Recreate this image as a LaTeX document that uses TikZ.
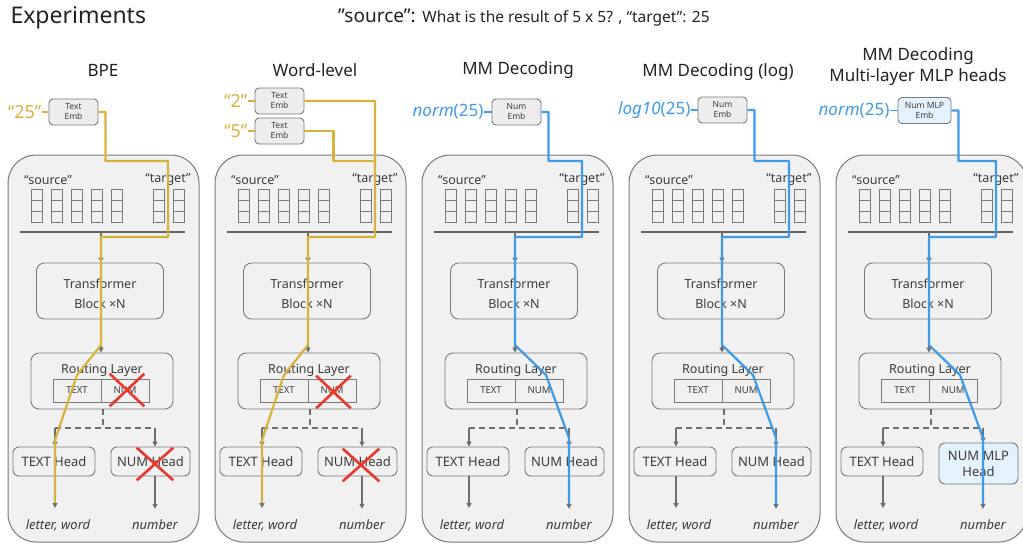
\documentclass[tikz,border=0pt]{standalone}
\usepackage{fontspec}
\setmainfont{Noto Sans}
\usetikzlibrary{positioning,arrows.meta,shapes.misc}

\definecolor{trackgold}{HTML}{D9B23C}
\definecolor{trackblue}{HTML}{3D9BEA}
\definecolor{crossred}{HTML}{E8392C}
\definecolor{panelgray}{HTML}{F1F1F1}
\definecolor{linegray}{HTML}{7A7A7A}
\definecolor{inkgray}{HTML}{3C3C3C}
\definecolor{inkdark}{HTML}{222222}
\definecolor{embgray}{HTML}{EDEDED}
\definecolor{mlpblue}{HTML}{E3F2FD}

\begin{document}
\begin{tikzpicture}[x=1pt,y=-1pt,
    panel/.style={draw=linegray,fill=panelgray,line width=1pt,rounded corners=28pt},
    title/.style={text=inkdark,font=\fontsize{17}{21}\selectfont,align=center},
    tok/.style={text=inkgray,font=\fontsize{12.5}{15}\selectfont,inner sep=0pt},
    cell/.style={draw=linegray,line width=0.9pt},
    tokbar/.style={draw=inkgray!80,line width=1.5pt},
    block/.style={draw=linegray,line width=0.9pt,rounded corners=8pt,text=inkgray,font=\fontsize{12.5}{20}\selectfont,align=center,inner sep=0pt},
    slot/.style={draw=linegray,line width=0.9pt,minimum width=48pt,minimum height=23pt,inner sep=0pt,text=inkgray,font=\fontsize{9.5}{11}\selectfont},
    headbox/.style={draw=linegray,line width=0.9pt,rounded corners=6pt,minimum height=29pt,inner sep=0pt,text=inkgray,font=\fontsize{13}{16}\selectfont,align=center},
    mlphead/.style={headbox,fill=mlpblue,minimum height=41pt},
    emb/.style={draw=linegray,line width=0.9pt,fill=embgray,rounded corners=4pt,minimum width=49pt,minimum height=26pt,inner sep=0pt,text=inkgray,font=\fontsize{8.5}{10}\selectfont,align=center},
    outlbl/.style={text=inkgray,font=\fontsize{13}{16}\selectfont\itshape,inner sep=1pt},
    arr/.style={draw=linegray!90!black,line width=1.6pt,-{Triangle[length=5pt,width=5pt]}},
    forkline/.style={draw=linegray!90!black,line width=1.8pt,dash pattern=on 6pt off 4pt},
    goldlbl/.style={text=trackgold,font=\fontsize{18}{22}\selectfont,inner sep=0pt},
    bluelbl/.style={text=trackblue,font=\fontsize{17}{21}\selectfont,inner sep=0pt},
    ytrack/.style={draw=trackgold,line width=2.2pt,line join=round},
    btrack/.style={draw=trackblue,line width=2.2pt,line join=round},
    xmark/.style={cross out,draw=crossred,line width=2.6pt,inner sep=0pt}
  ]
\useasboundingbox (0,0) rectangle (1023,544);

% header
\node[anchor=west,text=inkdark,font=\fontsize{23}{27}\selectfont] (exp) at (7,18) {Experiments};
\node[anchor=west,text=inkdark,inner sep=0pt] (query) at (338,18) {\fontsize{19}{23}\selectfont ”source”: \fontsize{15.5}{18}\selectfont What is the result of 5 x 5? , “target”: 25};

\node[title] (t1) at (103,70) {BPE};
\node[title] (t2) at (315,70) {Word-level};
\node[title] (t3) at (518,70) {MM Decoding};
\node[title] (t4) at (718,72) {MM Decoding (log)};
\node[title] (t5) at (918,67) {MM Decoding\\Multi-layer MLP heads};

% the five model panels
\foreach \dx/\n in {0/1,207/2,414/3,621/4,828/5}{
  \draw[panel] (\dx+8,155) rectangle (\dx+199,542);
  \node[tok] (src\n) at (\dx+48,180) {“source”};
  \node[tok] (tgt\n) at (\dx+168,180) {“target”};
  \foreach \c in {0,...,4}
    \foreach \r in {0,1,2}
      \draw[cell] (\dx+31+20*\c,189+11*\r) rectangle ++(11,11);
  \foreach \c in {0,1}
    \foreach \r in {0,1,2}
      \draw[cell] (\dx+153+20*\c,189+11*\r) rectangle ++(11,11);
  \coordinate (bl\n) at (\dx+20,232);
  \coordinate (br\n) at (\dx+185,232);
  \coordinate (bm\n) at (\dx+101,232);
  \draw[tokbar] (bl\n) -- (br\n);
  \node[block,minimum width=127pt,minimum height=56pt] (tf\n) at (\dx+100,291) {\\[-5pt]Transformer\\Block ×N};
  \node[block,minimum width=142pt,minimum height=56pt] (rt\n) at (\dx+102,381) {};
  \node[tok] (rl\n) at (\dx+102,370) {Routing Layer};
  \node[slot] (rx\n) at (\dx+77,390.5) {TEXT};
  \node[slot] (rn\n) at (\dx+125,390.5) {NUM};
  \node[headbox,minimum width=82pt] (th\n) at (\dx+54,461.5) {TEXT Head};
  \ifnum\n=5\relax
    \node[mlphead,minimum width=79pt] (nh\n) at (\dx+150.5,463.5) {NUM MLP\\Head};
  \else
    \node[headbox,minimum width=79pt] (nh\n) at (\dx+150.5,461.5) {NUM Head};
  \fi
  \node[outlbl] (ow\n) at (\dx+58,525) {letter, word};
  \node[outlbl] (on\n) at (\dx+155,525) {number};
  \coordinate (fk\n) at (\dx+103,428);
  \coordinate (fl\n) at (\dx+55,428);
  \coordinate (fr\n) at (\dx+155,428);
  \draw[arr] (bm\n) -- (tf\n.north -| bm\n);
  \draw[arr] (tf\n.south -| bm\n) -- (rt\n.north -| bm\n);
  \draw[forkline] (rt\n.south -| fk\n) -- (fk\n);
  \draw[forkline] (fl\n) -- (fr\n);
  \draw[arr] (fl\n) -- (th\n.north -| fl\n);
  \draw[arr] (fr\n) -- (nh\n.north -| fr\n);
  \draw[arr,shorten >=10pt] (th\n.south -| fl\n) -- (ow\n.north -| fl\n);
  \draw[arr,shorten >=10pt] (nh\n.south -| fr\n) -- (on\n.north -| fr\n);
  % waypoints of the coloured tracks
  \coordinate (tin\n) at (\dx+168,161);
  \coordinate (mix\n) at (\dx+168,237);
  \coordinate (down\n) at (\dx+101,345);
  \coordinate (ltx\n) at (\dx+77,375);
  \coordinate (lth\n) at (\dx+55,440);
  \coordinate (lte\n) at (\dx+55,503);
  \coordinate (lnm\n) at (\dx+132,375);
  \coordinate (lnh\n) at (\dx+155,438);
  \coordinate (lne\n) at (\dx+155,504);
}

% embeddings and inputs
\node[emb] (emb1) at (73.5,112) {Text\\Emb};
\node[emb] (emb2a) at (279.5,101) {Text\\Emb};
\node[emb] (emb2b) at (279.5,131) {Text\\Emb};
\node[emb] (emb3) at (516.5,112) {Num\\Emb};
\node[emb] (emb4) at (722.5,110) {Num\\Emb};
\node[emb,fill=mlpblue,minimum width=53pt] (emb5) at (924.5,110.5) {Num MLP\\Emb};

\node[goldlbl,left=7pt of emb1] (in1) {“25”};
\node[goldlbl,left=7pt of emb2a] (in2a) {“2”};
\node[goldlbl,left=7pt of emb2b] (in2b) {“5”};
\node[bluelbl,left=8pt of emb3] (in3) {\textit{norm}(25)};
\node[bluelbl,left=7pt of emb4] (in4) {\textit{log10}(25)};
\node[bluelbl,left=8pt of emb5] (in5) {\textit{norm}(25)};
\draw[trackgold,line width=1.2pt] (in1) -- (emb1);
\draw[trackgold,line width=1.2pt] (in2a) -- (emb2a);
\draw[trackgold,line width=1.2pt] (in2b) -- (emb2b);
\draw[trackblue,line width=1.2pt] (in3) -- (emb3);
\draw[trackblue,line width=1.2pt] (in4) -- (emb4);
\draw[trackblue,line width=1.2pt] (in5) -- (emb5);

% coloured tracks
\draw[ytrack] (emb1.east) -- ++(7,0) |- (tin1) -- (mix1) -| (down1) -- (ltx1) -- (lth1) -- (lte1);
\draw[ytrack] (emb2b.east) -- ++(29,0) |- (tin2);
\draw[ytrack] (emb2a.east) -| (mix2) -| (down2) -- (ltx2) -- (lth2) -- (lte2);
\draw[btrack] (emb3.east) -- ++(7,0) |- (tin3) -- (mix3) -| (down3) -- (lnm3) -- (lnh3) -- (lne3);
\draw[btrack] (emb4.east) -- ++(7,0) |- (tin4) -- (mix4) -| (down4) -- (lnm4) -- (lnh4) -- (lne4);
\draw[btrack] (emb5.east) -- ++(7,0) |- (tin5) -- (mix5) -| (down5) -- (lnm5) -- (lnh5) -- (lne5);

% switched-off number path
\node[xmark,minimum width=32pt,minimum height=30pt] (xr1) at (127,390) {};
\node[xmark,minimum width=34pt,minimum height=30pt] (xh1) at (155,464) {};
\node[xmark,minimum width=32pt,minimum height=30pt] (xr2) at (333.5,392) {};
\node[xmark,minimum width=34pt,minimum height=30pt] (xh2) at (361,465) {};
\end{tikzpicture}
\end{document}
